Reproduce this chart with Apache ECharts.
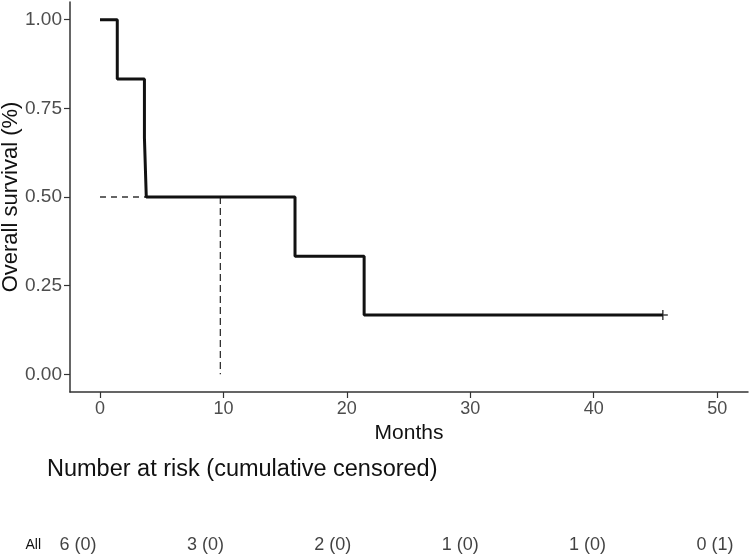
<!DOCTYPE html>
<html>
<head>
<meta charset="utf-8">
<script src="https://cdn.jsdelivr.net/npm/echarts@6/dist/echarts.min.js"></script>
<style>
  html, body { margin: 0; padding: 0; background: #fff; }
  #chart { width: 750px; height: 555px; }
</style>
</head>
<body>
<div id="chart"></div>
<script>
// Kaplan-Meier steps (months, survival)
const kmTimes = [0, 1.4, 3.6, 3.75, 15.8, 21.4, 45.6]
const kmSurv = [1.0, 0.833, 0.667, 0.5, 0.333, 0.167, 0.167]
const censorTimes = [45.6]
const censorSurv = [0.167]
// median survival guide lines
const medianSurv = 0.5
const medianHLine = [0, 3.75]
const medianTime = 9.75
// number at risk table
const riskTimes = [0, 10, 20, 30, 40, 50]
const riskLabels = ['6 (0)', '3 (0)', '2 (0)', '1 (0)', '1 (0)', '0 (1)']
const riskGroups = ['All']
const xTicks = [0, 10, 20, 30, 40, 50]
const yTicks = [0, 0.25, 0.5, 0.75, 1]

const chart = echarts.init(document.getElementById('chart'))
const font = 'Liberation Sans, Arial, sans-serif'

const axisBase = {
  splitLine: { show: false },
  axisLine: { show: true, onZero: false, lineStyle: { color: '#333', width: 1.5 } },
  axisTick: { show: true, length: 6, lineStyle: { color: '#333', width: 1.2 } }
}

const option = {
  animation: false,
  textStyle: { fontFamily: font },
  graphic: [
    {
      type: 'text',
      left: 47,
      top: 458,
      style: { text: 'Number at risk (cumulative censored)', font: '23.5px ' + font, fill: '#111' }
    }
  ],
  grid: [
    { left: 70, top: 2, width: 678, height: 390, outerBoundsMode: 'none' },
    { left: 78, top: 532, width: 637, height: 26, outerBoundsMode: 'none' }
  ],
  xAxis: [
    {
      ...axisBase,
      gridIndex: 0,
      type: 'value',
      min: -2.43,
      max: 52.5,
      name: 'Months',
      nameLocation: 'middle',
      nameGap: 27,
      nameTextStyle: { fontSize: 21, color: '#111' },
      axisTick: { ...axisBase.axisTick, customValues: xTicks },
      axisLabel: { fontSize: 18, color: '#4d4d4d', margin: 8, customValues: xTicks }
    },
    {
      gridIndex: 1,
      type: 'value',
      min: 0,
      max: 50,
      show: false
    }
  ],
  yAxis: [
    {
      ...axisBase,
      gridIndex: 0,
      type: 'value',
      min: -0.05,
      max: 1.05,
      name: 'Overall survival (%)',
      nameLocation: 'middle',
      nameGap: 48,
      nameMoveOverlap: false,
      nameTextStyle: { fontSize: 22, color: '#111' },
      axisTick: { ...axisBase.axisTick, customValues: yTicks },
      axisLabel: {
        fontSize: 19,
        color: '#4d4d4d',
        margin: 8,
        customValues: yTicks,
        formatter: (v) => v.toFixed(2)
      }
    },
    {
      gridIndex: 1,
      type: 'category',
      data: riskGroups,
      axisLine: { show: false },
      axisTick: { show: false },
      axisLabel: { fontSize: 14, color: '#111', margin: 37 }
    }
  ],
  series: [
    {
      type: 'line',
      xAxisIndex: 0,
      yAxisIndex: 0,
      data: medianHLine.map((t) => [t, medianSurv]),
      symbol: 'none',
      lineStyle: { color: '#333', width: 1.3, type: [6, 5] },
      z: 1
    },
    {
      type: 'line',
      xAxisIndex: 0,
      yAxisIndex: 0,
      data: [[medianTime, medianSurv], [medianTime, 0]],
      symbol: 'none',
      lineStyle: { color: '#333', width: 1.3, type: [7, 4] },
      z: 1
    },
    {
      type: 'line',
      xAxisIndex: 0,
      yAxisIndex: 0,
      step: 'end',
      data: kmTimes.map((t, i) => [t, kmSurv[i]]),
      symbol: 'none',
      lineStyle: { color: '#111', width: 3 },
      z: 3
    },
    {
      type: 'scatter',
      xAxisIndex: 0,
      yAxisIndex: 0,
      data: censorTimes.map((t, i) => [t, censorSurv[i]]),
      symbol: 'path://M0,5L10,5M5,0L5,10',
      symbolSize: 10,
      itemStyle: { color: 'none', borderColor: '#111', borderWidth: 1.5 },
      z: 4
    },
    {
      type: 'scatter',
      xAxisIndex: 1,
      yAxisIndex: 1,
      data: riskTimes.map((t) => [t, riskGroups[0]]),
      symbolSize: 0,
      label: {
        show: true,
        position: 'inside',
        formatter: (p) => riskLabels[p.dataIndex],
        fontSize: 18,
        color: '#111'
      }
    }
  ]
}

chart.setOption(option)
window.addEventListener('resize', () => chart.resize())
</script>
</body>
</html>
